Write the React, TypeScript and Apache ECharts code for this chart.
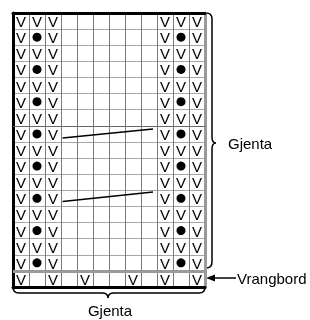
import React, { useEffect, useRef } from "react";
import * as echarts from "echarts";

// Chart rows, top to bottom ("V" = knit stitch, "D" = dot stitch, "." = empty)
const patternRows: string[] = [
  "VVV......VVV",
  "VDV......VDV",
  "VVV......VVV",
  "VDV......VDV",
  "VVV......VVV",
  "VDV......VDV",
  "VVV......VVV",
  "VDV......VDV",
  "VVV......VVV",
  "VDV......VDV",
  "VVV......VVV",
  "VDV......VDV",
  "VVV......VVV",
  "VDV......VDV",
  "VVV......VVV",
  "VDV......VDV",
];
const ribRow = "V.V.V..V.V.V";

// Slanted cable lines, [x, y] in chart units
const slantLines: number[][][] = [
  [
    [3.1, 9.25],
    [8.75, 9.8],
  ],
  [
    [3.1, 5.3],
    [8.75, 5.9],
  ],
];

const labelRight = "Gjenta";
const labelBottom = "Gjenta";
const labelRib = "Vrangbord";

const COLS = 12;
const ROWS = patternRows.length + 1;

const FONT = "'Liberation Sans', Arial, Helvetica, sans-serif";

const braceRight =
  "M206,13 Q212,13 212,19 L212,137 Q212,143 216,143 Q212,143 212,149 L212,262 Q212,268 206,268";
const braceBottom =
  "M13,287 Q13,293 19,293 L102,293 Q108,293 108,298 Q108,293 114,293 L199,293 Q205,293 205,287";

echarts.graphic.registerShape("braceRight", echarts.graphic.extendPath(braceRight, {}));
echarts.graphic.registerShape("braceBottom", echarts.graphic.extendPath(braceBottom, {}));

export default function App() {
  const ref = useRef<HTMLDivElement>(null);

  useEffect(() => {
    if (!ref.current) return;
    const chart = echarts.init(ref.current, null, { renderer: "svg" });

    const vPoints: number[][] = [];
    const dotPoints: number[][] = [];
    patternRows.forEach((row, r) => {
      const y = ROWS - r - 0.5;
      row.split("").forEach((c, col) => {
        if (c === "V") vPoints.push([col + 0.5, y]);
        if (c === "D") dotPoints.push([col + 0.5, y]);
      });
    });
    ribRow.split("").forEach((c, col) => {
      if (c === "V") vPoints.push([col + 0.5, 0.5]);
    });

    const hidden = { show: false };

    chart.setOption({
      animation: false,
      grid: { left: 13, top: 13, width: 192, height: 274 },
      xAxis: [
        {
          type: "value",
          min: 0,
          max: COLS,
          interval: 1,
          position: "bottom",
          axisLine: { show: true, onZero: false, lineStyle: { color: "#000", width: 3 } },
          axisTick: hidden,
          axisLabel: hidden,
          splitLine: { show: true, lineStyle: { color: "#7a7a7a", width: 1 } },
        },
        {
          type: "value",
          min: 0,
          max: COLS,
          interval: 1,
          position: "top",
          axisLine: { show: true, onZero: false, lineStyle: { color: "#000", width: 3 } },
          axisTick: hidden,
          axisLabel: hidden,
          splitLine: hidden,
        },
      ],
      yAxis: [
        {
          type: "value",
          min: 0,
          max: ROWS,
          interval: 1,
          position: "left",
          axisLine: { show: true, onZero: false, lineStyle: { color: "#000", width: 3 } },
          axisTick: hidden,
          axisLabel: hidden,
          splitLine: { show: true, lineStyle: { color: "#a6a6a6", width: 1 } },
        },
        {
          type: "value",
          min: 0,
          max: ROWS,
          interval: 1,
          position: "right",
          axisLine: { show: true, onZero: false, lineStyle: { color: "#9a9a9a", width: 3 } },
          axisTick: hidden,
          axisLabel: hidden,
          splitLine: hidden,
        },
      ],
      series: [
        {
          type: "scatter",
          data: dotPoints,
          symbol: "circle",
          symbolSize: 9,
          itemStyle: { color: "#000", opacity: 1 },
          silent: true,
          markLine: {
            silent: true,
            symbol: "none",
            label: { show: false },
            data: [
              { yAxis: 1, lineStyle: { color: "#9a9a9a", width: 3, type: "solid" } },
              { yAxis: 10, lineStyle: { color: "#666", width: 1, type: "solid" } },
            ],
          },
        },
        {
          type: "custom",
          data: vPoints,
          silent: true,
          renderItem: (params: any, api: any) => {
            const p = api.coord([api.value(0), api.value(1)]);
            return {
              type: "text",
              x: p[0],
              y: p[1] + 0.5,
              style: {
                text: "V",
                fill: "#000",
                font: `15px ${FONT}`,
                align: "center",
                verticalAlign: "middle",
              },
            };
          },
        },
        ...slantLines.map((pts) => ({
          type: "line",
          data: pts,
          symbol: "none",
          silent: true,
          lineStyle: { color: "#000", width: 1.5 },
        })),
      ],
      graphic: [
        {
          type: "braceRight",
          x: 0,
          y: 0,
          style: { stroke: "#000", fill: "none", lineWidth: 1.5 },
        },
        {
          type: "braceBottom",
          x: 0,
          y: 0,
          style: { stroke: "#000", fill: "none", lineWidth: 1.5 },
        },
        {
          type: "line",
          shape: { x1: 236, y1: 278, x2: 211, y2: 278 },
          style: { stroke: "#000", lineWidth: 1.5 },
        },
        {
          type: "polygon",
          shape: {
            points: [
              [206, 278],
              [215, 274.5],
              [215, 281.5],
            ],
          },
          style: { fill: "#000" },
        },
        {
          type: "text",
          x: 228,
          y: 143,
          style: {
            text: labelRight,
            fill: "#000",
            font: `15px ${FONT}`,
            verticalAlign: "middle",
          },
        },
        {
          type: "text",
          x: 237,
          y: 278,
          style: {
            text: labelRib,
            fill: "#000",
            font: `15px ${FONT}`,
            verticalAlign: "middle",
          },
        },
        {
          type: "text",
          x: 110,
          y: 310,
          style: {
            text: labelBottom,
            fill: "#000",
            font: `15px ${FONT}`,
            align: "center",
            verticalAlign: "middle",
          },
        },
      ],
    });

    return () => chart.dispose();
  }, []);

  return (
    <div
      ref={ref}
      style={{ position: "fixed", left: 0, top: 0, width: 310, height: 320 }}
    />
  );
}
